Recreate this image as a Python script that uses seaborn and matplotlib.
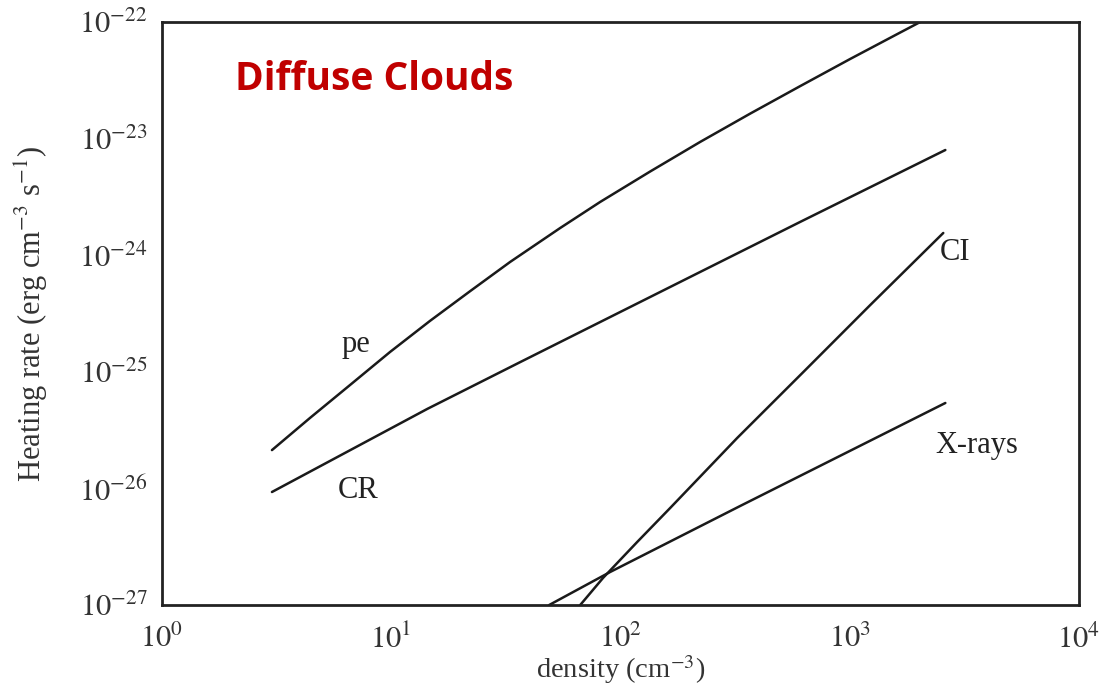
import numpy as np
import pandas as pd
import matplotlib
matplotlib.use("Agg")
import matplotlib.pyplot as plt
import seaborn as sns

# Heating rates for diffuse clouds versus density (cm^-3)
pe_density = [3.03, 4.44, 6.64, 9.92, 14.8, 22.2, 33.1, 54.7, 81.7, 135,
              223, 369, 609, 1006, 1663, 2032]
pe_rate = [2.13e-26, 4.02e-26, 7.71e-26, 1.48e-25, 2.73e-25, 4.93e-25,
           8.75e-25, 1.71e-24, 2.86e-24, 5.22e-24, 9.36e-24, 1.64e-23,
           2.82e-23, 4.82e-23, 8.13e-23, 1.0e-22]

cr_density = [3.03, 5.43, 14.4, 36.6, 81.7, 223, 609, 2613]
cr_rate = [9.31e-27, 1.72e-26, 4.80e-26, 1.21e-25, 2.67e-25, 7.18e-25,
           1.93e-24, 7.98e-24]

ci_density = [66.9, 84.2, 118.5, 165, 323, 628, 1230, 2559]
ci_rate = [1.0e-27, 1.71e-27, 3.47e-27, 6.79e-27, 2.70e-26, 9.95e-26,
           3.74e-25, 1.55e-24]

xray_density = [49.0, 90.4, 333, 2613]
xray_rate = [1.0e-27, 1.92e-27, 7.06e-27, 5.40e-26]

series_names = ["pe", "CR", "CI", "X-rays"]
x_ticks = [1e0, 1e1, 1e2, 1e3, 1e4]
x_tick_labels = ["$10^{0}$", "$10^{1}$", "$10^{2}$", "$10^{3}$", "$10^{4}$"]
y_ticks = [1e-27, 1e-26, 1e-25, 1e-24, 1e-23, 1e-22]
y_tick_labels = ["$10^{-27}$", "$10^{-26}$", "$10^{-25}$",
                 "$10^{-24}$", "$10^{-23}$", "$10^{-22}$"]

frames = []
for name, dens, rate in zip(series_names,
                            [pe_density, cr_density, ci_density, xray_density],
                            [pe_rate, cr_rate, ci_rate, xray_rate]):
    frames.append(pd.DataFrame({"density": dens, "rate": rate, "process": name}))
data = pd.concat(frames, ignore_index=True)

sns.set_style("white")
plt.rcParams["font.family"] = ["Liberation Serif", "DejaVu Serif"]
plt.rcParams["mathtext.fontset"] = "stix"

fig = plt.figure(figsize=(11.04, 6.93), dpi=100)
ax = fig.add_axes([0.1463, 0.1270, 0.8311, 0.8413])

sns.lineplot(data=data, x="density", y="rate", hue="process",
             palette={n: "#1a1a1a" for n in series_names},
             estimator=None, sort=False, legend=False,
             linewidth=1.8, ax=ax)

ax.set_xscale("log")
ax.set_yscale("log")
ax.set_xlim(1e0, 1e4)
ax.set_ylim(1e-27, 1e-22)

ax.set_xticks(x_ticks)
ax.set_xticklabels(x_tick_labels)
ax.set_yticks(y_ticks)
ax.set_yticklabels(y_tick_labels)
ax.minorticks_off()
ax.tick_params(axis="both", which="major", direction="in", length=7,
               width=1.3, color="#222222", labelsize=22, labelcolor="#333333",
               top=False, right=False)
ax.tick_params(axis="x", pad=14)
ax.tick_params(axis="y", pad=10)

for spine in ax.spines.values():
    spine.set_linewidth(2.0)
    spine.set_color("#222222")

ax.set_xlabel("density (cm$^{-3}$)", fontsize=20.5, color="#333333")
ax.xaxis.set_label_coords(0.5, -0.083)
ax.set_ylabel("Heating rate (erg cm$^{-3}$ s$^{-1}$)", fontsize=22,
              color="#333333")
ax.yaxis.set_label_coords(-0.122, 0.5)

label_style = dict(fontsize=22, color="#222222", ha="center", va="center",
                   transform=ax.transAxes)
ax.text(0.212, 0.446, "pe", **label_style)
ax.text(0.214, 0.196, "CR", **label_style)
ax.text(0.865, 0.605, "CI", **label_style)
ax.text(0.889, 0.274, "X-rays", **label_style)

ax.text(0.232, 0.902, "Diffuse Clouds", transform=ax.transAxes,
        fontsize=28, fontweight="bold", color="#C00000",
        family=["Open Sans", "DejaVu Sans"], ha="center", va="center")

fig.savefig("out.png", dpi=100)
